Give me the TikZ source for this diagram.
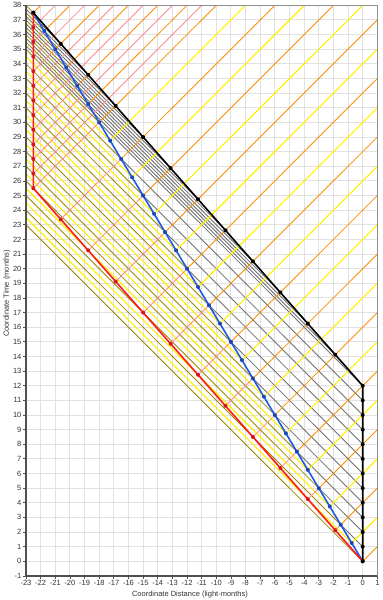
\documentclass[tikz,border=0pt]{standalone}
\usepackage{fontspec}
\setmainfont{Liberation Sans}
\definecolor{sigyellow}{HTML}{FFF000}
\definecolor{sigorange}{HTML}{FF8C00}
\definecolor{sigpink}{HTML}{FF8A8A}
\definecolor{sigolive}{HTML}{9C8A00}
\definecolor{siggrey}{HTML}{707070}
\definecolor{wlblue}{HTML}{1E5AE6}
\definecolor{wlred}{HTML}{FF1A1A}
\definecolor{gridgrey}{HTML}{E2E2E2}
\definecolor{axisgrey}{HTML}{505050}
\definecolor{framegrey}{HTML}{909090}
\definecolor{labelgrey}{HTML}{333333}
\begin{document}
\begin{tikzpicture}[x=14.64pt,y=14.63pt,
  gridline/.style={gridgrey,line width=1pt},
  sig/.style={line width=0.85pt},
  ysig/.style={sigyellow,line width=1.1pt},
  wl/.style={line width=1.6pt,line join=round},
  evdot/.style={circle,inner sep=0pt,minimum size=4pt},
  ticklab/.style={font=\fontsize{7.5}{9}\selectfont,text=labelgrey,inner sep=0pt},
  axtitle/.style={font=\fontsize{7.5}{9}\selectfont,text=labelgrey,inner sep=0pt}]
\useasboundingbox (-24.775,-2.645) rectangle (1.3866,38.367);
% grid
\foreach \i in {-22,...,0} \draw[gridline] (\i,-1) -- (\i,38);
\foreach \j in {0,...,37} \draw[gridline] (-23,\j) -- (1,\j);
\begin{scope}
\clip (-23,-1) rectangle (1,38);
% black's leftward signals, vertical part
\foreach \k in {0,...,12} {
  \draw[sig,siggrey] (0,\k) -- ({-1.5*\k},{2.5*\k});
  \draw[sig,sigolive] ({-1.5*\k},{2.5*\k}) -- ++(-40,40);
}
% black's leftward signals, diagonal part
\foreach \k in {1,...,12} {
  \pgfmathsetmacro\cc{12+0.25*\k}
  \pgfmathsetmacro\bx{-1.5*\cc}
  \pgfmathsetmacro\by{2.5*\cc}
  \draw[sig,siggrey] ({-1.875*\k},{12+2.125*\k}) -- (\bx,\by);
  \ifodd\k
    \draw[sig,siggrey] (\bx,\by) -- ++(-40,40);
  \else
    \draw[sig,sigolive] (\bx,\by) -- ++(-40,40);
  \fi
}
% blue-only leftward signals
\foreach \k in {1,3,...,23} \draw[ysig] ({-0.75*\k},{1.25*\k}) -- ++(-40,40);
% red's rightward signals, moving part
\foreach \s in {0,...,12} {
  \draw[sig,sigpink] ({-1.875*\s},{2.125*\s}) -- ({-1.5*\s},{2.5*\s});
  \draw[sig,sigorange] ({-1.5*\s},{2.5*\s}) -- ++(40,40);
}
% red's rightward signals, resting part
\foreach \j in {1,...,12} {
  \pgfmathsetmacro\ct{(48+\j)/1.6}
  \pgfmathsetmacro\cx{-0.6*\ct}
  \ifodd\j
    \draw[sig,sigpink] (-22.5,{25.5+\j}) -- ++(40,40);
  \else
    \draw[sig,sigpink] (-22.5,{25.5+\j}) -- (\cx,\ct);
    \draw[sig,sigorange] (\cx,\ct) -- ++(40,40);
  \fi
}
% blue-only rightward signals
\foreach \k in {1,3,...,23} \draw[ysig] ({-0.75*\k},{1.25*\k}) -- ++(40,40);
\end{scope}
% frame and axes
\draw[framegrey,line width=1pt] (-23,38) -- (1,38) -- (1,-1);
\draw[axisgrey,line width=1.3pt] (-23,38) -- (-23,-1) -- (1,-1);
\foreach \j in {-1,...,38} {
  \draw[axisgrey,line width=0.8pt] (-23,\j) -- (-23.2,\j);
  \node[ticklab,anchor=east] at (-23.3,\j) {\j};
}
\foreach \i in {-23,...,1} {
  \draw[axisgrey,line width=0.8pt] (\i,-1) -- (\i,-1.2);
  \node[ticklab] at (\i,-1.5) {\i};
}
\node[axtitle] (xt) at (-11.8,-2.25) {Coordinate Distance (light-months)};
\node[axtitle,rotate=90] (yt) at (-24.3,18.3) {Coordinate Time (months)};
% world lines
\coordinate (O) at (0,0);
\coordinate (P) at (-22.5,37.5);
\coordinate (R) at (-22.5,25.5);
\coordinate (B) at (0,12);
\draw[wl,wlblue] (O) -- (P);
\foreach \k in {0,...,30} \node[evdot,fill=wlblue!80!black] (bl\k) at ({-0.75*\k},{1.25*\k}) {};
\draw[wl,wlred] (O) -- (R) -- (P);
\foreach \s in {1,...,12} {
  \node[evdot,fill=wlred!85!black] (rd\s) at ({-1.875*\s},{2.125*\s}) {};
  \node[evdot,fill=wlred!85!black] (rv\s) at (-22.5,{25.5+\s}) {};
}
\draw[wl,black] (O) -- (B) -- (P);
\foreach \k in {0,...,12} \node[evdot,fill=black] (kv\k) at (0,\k) {};
\foreach \k in {1,...,12} \node[evdot,fill=black] (kd\k) at ({-1.875*\k},{12+2.125*\k}) {};
\end{tikzpicture}
\end{document}
